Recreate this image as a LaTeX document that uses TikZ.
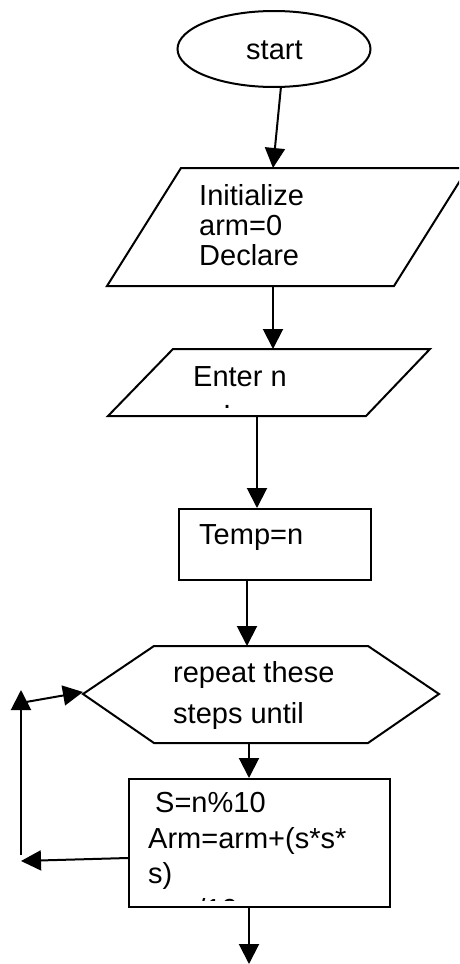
\documentclass[tikz,border=0pt]{standalone}
\usepackage{fontspec}
\setmainfont{Liberation Sans}
\usetikzlibrary{arrows.meta,shapes.geometric}
\begin{document}
\begin{tikzpicture}[x=1pt,y=-1pt,
  shapeline/.style={draw=black,line width=2pt,line join=miter},
  flow/.style={line width=2pt,-{Triangle[length=20pt,width=20pt]}},
  label/.style={inner sep=0pt,anchor=base west,align=left,
    font=\fontsize{29}{30}\selectfont}]
\useasboundingbox (0,0) rectangle (459,964);
\clip (0,0) rectangle (459,964);

% terminal
\node[shapeline,ellipse,minimum width=193pt,minimum height=76pt,inner sep=0pt] (start) at (274,49) {};
\node[label] (starttext) at (246,59) {start};

% initialisation (parallelogram); multi-line labels sit on their last baseline
\draw[shapeline] (181,168) -- (468,168) -- (394,286) -- (107,286) -- cycle;
\coordinate (initTop) at (273,168);
\coordinate (initBot) at (273,286);
\node[label] (inittext) at (199,265) {Initialize\\arm=0\\Declare};

% input (parallelogram)
\draw[shapeline] (173,349) -- (430,349) -- (366,416) -- (108,416) -- cycle;
\coordinate (inTop) at (273,349);
\coordinate (inBot) at (257,416);
\node[label] (intext) at (193,386) {Enter n};
\node[label] (indot) at (223,408) {.};

% assignment
\node[shapeline,rectangle,minimum width=192pt,minimum height=71pt,inner sep=0pt,anchor=north west] (temp) at (178,508) {};
\node[label] (temptext) at (199,544) {Temp=n};

% loop header (hexagon)
\draw[shapeline] (154,646) -- (368,646) -- (439,694) -- (368,743) -- (154,743) -- (83,694) -- cycle;
\coordinate (loopTop) at (247,646);
\coordinate (loopBot) at (249,743);
\coordinate (loopLeft) at (83,692);
\node[label,font=\fontsize{29}{41}\selectfont] (looptext) at (173,723) {repeat these\\steps until};

% loop body; its last line runs past the frame and is cut off
\node[shapeline,rectangle,minimum width=261pt,minimum height=128pt,inner sep=0pt,anchor=north west] (body) at (128,778) {};
\begin{scope}
  \clip (130,780) rectangle (387,900.5);
  \node[label,font=\fontsize{29}{35.5}\selectfont] (bodytext) at (148,919)
    {\hspace*{7pt}S=n\%10\\Arm=arm+(s*s*\\s)\\n=n/10};
\end{scope}

% free ends of the return path and the exit
\coordinate (backTip) at (21,861);
\coordinate (upFoot) at (21,855);
\coordinate (upTip) at (21,690);
\coordinate (crossFoot) at (26,702);
\coordinate (exitTip) at (249,964);

% connectors
\draw[flow] (start.-80) -- (initTop);
\draw[flow] (initBot) -- (inTop);
\draw[flow] (inBot) -- (temp.north -| inBot);
\draw[flow] (temp.south -| loopTop) -- (loopTop);
\draw[flow] (loopBot) -- (body.north -| loopBot);
\draw[flow] (body.south -| exitTip) -- (exitTip);
\draw[flow] (body.west |- 0,858) -- (backTip);
\draw[flow] (upFoot) -- (upTip);
\draw[flow] (crossFoot) -- (loopLeft);
\end{tikzpicture}
\end{document}
